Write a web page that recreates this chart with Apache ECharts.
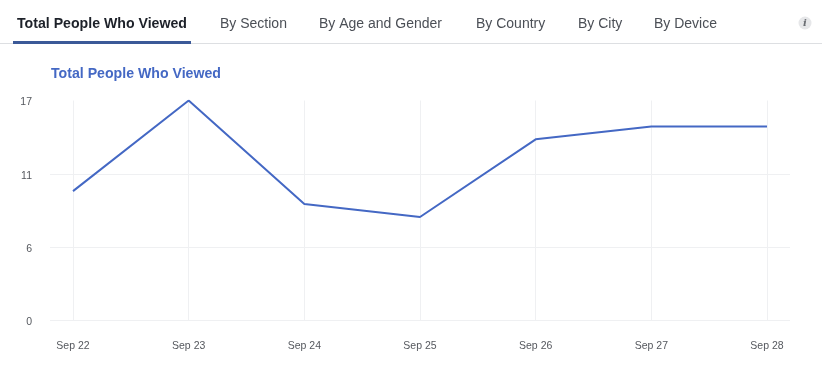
<!DOCTYPE html>
<html lang="en">
<head>
    <meta charset="UTF-8">
    <title>Total People Who Viewed</title>
    <script src="https://fastly.jsdelivr.net/npm/echarts@6/dist/echarts.min.js"></script>
    <style>
        html, body { margin: 0; padding: 0; background: #fff; }
    </style>
</head>
<body>
    <div id="dv" style="width:822px;height:371px;"></div>
</body>
<script>
   var dates = ['Sep 22', 'Sep 23', 'Sep 24', 'Sep 25', 'Sep 26', 'Sep 27', 'Sep 28']
   var viewed = [10, 17, 9, 8, 14, 15, 15]
   var yMax = 17
   var ySteps = 3
   var tabs = ['Total People Who Viewed', 'By Section', 'By Age and Gender', 'By Country', 'By City', 'By Device']
   var tabX = [17, 220, 319, 476, 578, 654]
   var chartTitle = 'Total People Who Viewed'

   var font = '"Liberation Sans", Arial, sans-serif'
   var blue = '#4468c4'
   var gridColor = '#eff0f2'
   var myChart = echarts.init(document.getElementById('dv'))

   var tabTexts = tabs.map(function (t, i) {
        return {
            type: 'text',
            x: tabX[i],
            y: 24,
            style: {
                text: t,
                fill: i === 0 ? '#1d2129' : '#4b4f56',
                font: (i === 0 ? 'bold 14.15px ' : '14px ') + font,
                verticalAlign: 'middle'
            }
        }
   })

   var option = {
        animation: false,
        title: {
            text: chartTitle,
            left: 51,
            top: 67,
            padding: 0,
            textStyle: { color: blue, fontSize: 14.15, fontWeight: 'bold', fontFamily: font, lineHeight: 15 }
        },
        // grid 0 carries the wider horizontal lines, grid 1 the plot itself
        grid: [
            { left: 50, top: 100.5, width: 740, height: 220 },
            { left: 73, top: 100.5, width: 694, height: 220 }
        ],
        xAxis: [{
            gridIndex: 0,
            type: 'value',
            show: false
        }, {
            gridIndex: 1,
            type: 'category',
            boundaryGap: false,
            data: dates,
            axisLine: { show: false },
            axisTick: { show: false },
            axisLabel: { color: '#55585e', fontSize: 10.5, fontFamily: font, margin: 20, interval: 0, hideOverlap: false },
            splitLine: { show: true, lineStyle: { color: gridColor, width: 1 } }
        }],
        yAxis: [{
            gridIndex: 0,
            type: 'value',
            min: 0,
            max: yMax,
            interval: yMax / ySteps,
            axisLine: { show: false },
            axisTick: { show: false },
            axisLabel: {
                color: '#55585e',
                fontSize: 10.5,
                fontFamily: font,
                margin: 18,
                verticalAlign: 'top',
                lineHeight: 4,
                formatter: function (v) { return Math.round(v) }
            },
            splitLine: { show: true, showMaxLine: false, lineStyle: { color: gridColor, width: 1 } }
        }, {
            gridIndex: 1,
            type: 'value',
            min: 0,
            max: yMax,
            show: false
        }],
        series: [{
            type: 'line',
            xAxisIndex: 1,
            yAxisIndex: 1,
            data: viewed,
            showSymbol: false,
            lineStyle: { color: blue, width: 2 },
            itemStyle: { color: blue }
        }],
        graphic: tabTexts.concat([
            { type: 'rect', shape: { x: 0, y: 43, width: 822, height: 1 }, style: { fill: '#dddfe2' } },
            { type: 'rect', shape: { x: 13, y: 41, width: 178, height: 3 }, style: { fill: '#3b5998' } },
            { type: 'circle', shape: { cx: 805, cy: 23, r: 6.5 }, style: { fill: '#e6e7e9' } },
            {
                type: 'text',
                x: 805,
                y: 23,
                style: {
                    text: 'i',
                    fill: '#6b6e73',
                    font: 'italic bold 10px ' + '"DejaVu Serif", serif',
                    align: 'center',
                    verticalAlign: 'middle'
                }
            }
        ])
   }
   myChart.setOption(option)
</script>
</html>
